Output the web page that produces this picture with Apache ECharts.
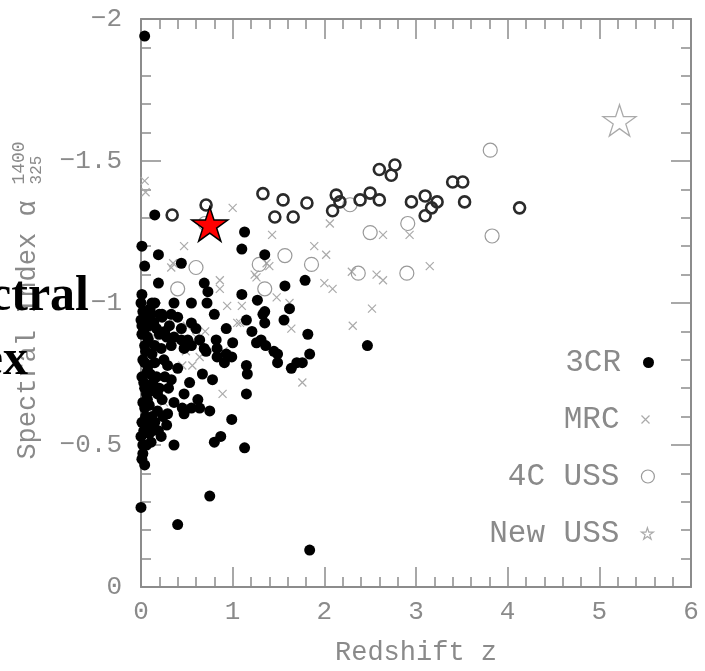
<!DOCTYPE html>
<html><head><meta charset="utf-8">
<script src="https://cdn.jsdelivr.net/npm/echarts@6/dist/echarts.min.js"></script>
<style>html,body{margin:0;padding:0;background:#fff}#chart{width:705px;height:671px}</style>
</head><body><div id="chart"></div>
<script>
// ---- data (redshift z, spectral index alpha) ----
const xTickValues = [0, 1, 2, 3, 4, 5, 6];
const yTickValues = [0, -0.5, -1, -1.5, -2];
const legendNames = ['3CR', 'MRC', '4C USS', 'New USS'];

const data3CR = [
  [0.04,-1.94],[0.15,-1.31],[0.01,-1.20],[0.19,-1.17],[0.44,-1.14],[0.04,-1.13],[0.19,-1.07],
  [1.13,-1.25],[1.10,-1.19],[1.35,-1.17],[0.01,-1.03],[0.12,-1.00],[0.36,-1.00],[0.15,-1.00],
  [0.69,-1.07],[0.73,-1.04],[0.55,-1.00],[0.72,-1.00],[0.80,-0.96],[1.10,-1.03],[1.27,-1.01],
  [1.57,-1.06],[1.79,-1.08],[1.62,-0.98],[1.33,-0.96],[1.15,-0.94],[1.56,-0.94],[1.82,-0.89],
  [1.31,-0.87],[1.36,-0.85],[1.84,-0.82],[1.45,-0.83],[1.49,-0.82],[1.49,-0.79],[1.70,-0.79],
  [1.64,-0.77],[1.76,-0.79],[1.21,-0.90],[0.04,-0.97],[0.11,-0.96],[0.20,-0.96],[0.23,-0.95],
  [0.40,-0.95],[0.00,-0.94],[0.01,-0.92],[0.09,-0.92],[0.31,-0.92],[0.17,-0.91],[0.28,-0.88],
  [0.44,-0.91],[0.44,-0.87],[0.55,-0.93],[0.60,-0.91],[0.64,-0.87],[0.55,-0.85],[0.69,-0.84],
  [0.82,-0.87],[0.83,-0.84],[0.93,-0.82],[0.91,-0.79],[0.93,-0.91],[1.00,-0.86],[0.99,-0.81],
  [1.15,-0.78],[1.16,-0.75],[1.26,-0.86],[1.35,-0.97],[1.35,-0.93],[0.01,-0.89],[0.20,-0.89],
  [0.36,-0.88],[0.51,-0.87],[0.04,-0.85],[0.15,-0.85],[0.33,-0.85],[0.47,-0.84],[0.71,-0.83],
  [0.83,-0.81],[0.04,-0.79],[0.15,-0.79],[0.29,-0.78],[0.40,-0.77],[0.01,-0.74],[0.17,-0.74],
  [0.33,-0.73],[0.67,-0.75],[0.78,-0.73],[0.53,-0.72],[0.04,-0.70],[0.20,-0.70],[0.47,-0.68],
  [0.07,-0.66],[0.23,-0.66],[0.36,-0.65],[0.62,-0.66],[0.45,-0.63],[0.04,-0.63],[0.18,-0.62],
  [0.29,-0.61],[0.55,-0.63],[0.64,-0.63],[0.75,-0.62],[0.47,-0.61],[0.99,-0.59],[1.15,-0.68],
  [0.01,-0.58],[0.15,-0.58],[0.28,-0.57],[0.09,-0.54],[0.22,-0.53],[0.00,-0.53],[0.87,-0.53],
  [0.80,-0.51],[0.36,-0.50],[1.13,-0.49],[0.75,-0.32],[0.40,-0.22],[1.84,-0.13],[0.00,-0.28],
  [0.01,-0.45],[0.04,-0.43],[2.47,-0.85],[0.02,-0.50],[0.03,-0.55],[0.05,-0.60],[0.02,-0.65],
  [0.06,-0.68],[0.03,-0.72],[0.07,-0.76],[0.02,-0.80],[0.05,-0.83],[0.08,-0.87],[0.03,-0.90],
  [0.06,-0.95],[0.10,-0.98],[0.12,-0.82],[0.10,-0.75],[0.12,-0.60],[0.10,-0.69],[0.25,-0.80],
  [0.22,-0.84],[0.13,-0.72],[0.26,-0.90],[0.30,-0.70],[0.06,-0.50],[0.12,-0.55],[0.02,-0.47],
  [0.07,-0.88],[0.02,-0.97],[0.00,-1.00],[0.23,-0.96],[0.08,-0.78],[0.18,-0.68],[0.26,-0.74],
  [0.09,-0.64],[0.14,-0.93],[0.33,-0.96],[0.24,-0.60],[0.06,-0.57],[0.19,-0.55],[0.11,-0.51]
];

const dataMRC = [
  [0.04,-1.43],[0.05,-1.39],[1.00,-1.335],[0.47,-1.20],[0.35,-1.14],[0.33,-1.125],[1.43,-1.24],
  [1.89,-1.20],[2.02,-1.17],[0.86,-1.08],[0.94,-0.99],[1.10,-0.99],[1.48,-1.02],[1.64,-0.91],
  [1.08,-0.93],[0.60,-0.88],[2.06,-1.28],[2.64,-1.24],[2.93,-1.24],[2.00,-1.07],[2.09,-1.05],
  [2.52,-0.98],[2.31,-0.92],[2.57,-1.10],[2.64,-1.08],[3.15,-1.13],[2.30,-1.11],[1.40,-1.13],
  [1.24,-1.10],[1.26,-1.09],[1.37,-1.14],[1.62,-1.00],[1.05,-0.93],[1.76,-0.72],[0.89,-0.68],
  [0.86,-1.05],[0.60,-0.86],[0.64,-0.81],[0.56,-0.78],[0.49,-0.83],[0.30,-0.95],[0.50,-0.92],
  [0.70,-0.90],[0.45,-0.78],[0.90,-0.83],[0.80,-0.96],[0.15,-0.88],[0.25,-0.65]
];

const data4CDark = [
  [0.34,-1.31],[0.71,-1.345],[1.33,-1.385],[1.55,-1.363],[1.81,-1.352],[1.46,-1.303],[1.66,-1.303],
  [2.13,-1.38],[2.17,-1.356],[2.09,-1.325],[2.39,-1.363],[2.50,-1.387],[2.60,-1.363],[2.60,-1.47],
  [2.77,-1.486],[2.73,-1.45],[2.95,-1.356],[3.10,-1.377],[3.23,-1.356],[3.17,-1.335],[3.10,-1.307],
  [3.40,-1.426],[3.51,-1.426],[3.53,-1.356],[4.13,-1.335]
];

const data4CLight = [
  [0.60,-1.125],[0.40,-1.05],[1.29,-1.136],[1.57,-1.167],[1.86,-1.136],[1.35,-1.05],[2.28,-1.346],
  [3.81,-1.538],[2.91,-1.28],[2.50,-1.248],[3.83,-1.236],[2.37,-1.105],[2.90,-1.105],[0.70,-1.28]
];

const dataNewUSS = [[5.22,-1.643]];
const dataTarget = [[0.75,-1.278]];

// ---- styling ----
const FONT = '"Liberation Mono", monospace';
const GRAY = '#8a8a8a';
const AXC = '#8c8c8c';
const STAR = 'path://M50,0L61.23,34.55L97.55,34.55L68.17,55.9L79.39,90.45L50,69.1L20.61,90.45L31.83,55.9L2.45,34.55L38.77,34.55Z';
const CROSS = 'path://M0,0L10,10M10,0L0,10';

function frameAxis(extra) {
  return Object.assign({
    type: 'value',
    axisLine: { show: true, onZero: false, lineStyle: { color: AXC, width: 2 } },
    axisTick: { show: true, inside: true, length: 20, lineStyle: { color: AXC, width: 1.5 } },
    minorTick: { show: true, splitNumber: 5, length: 10, lineStyle: { color: AXC, width: 1.5 } },
    splitLine: { show: false },
    minorSplitLine: { show: false }
  }, extra);
}
const minusFmt = v => (v < 0 ? '\u2212' + Math.abs(v) : String(v));

const chart = echarts.init(document.getElementById('chart'), null, { renderer: 'canvas' });

function legendAt(name, top, right, size, icon, itemStyle) {
  return {
    data: [name], top: top, right: right, padding: 0, align: 'right',
    itemWidth: size, itemHeight: size, icon: icon, selectedMode: false,
    itemStyle: itemStyle,
    textStyle: { fontFamily: FONT, fontSize: 31, color: GRAY, padding: [0, 17, 0, 0] }
  };
}

chart.setOption({
  animation: false,
  backgroundColor: '#fff',
  grid: { left: 141, right: 14, top: 19, bottom: 80, containLabel: false },
  xAxis: [
    frameAxis({ min: 0, max: 6, interval: 1, position: 'bottom',
      axisLabel: { margin: 12, fontFamily: FONT, fontSize: 26, color: GRAY,
        formatter: v => xTickValues.includes(v) ? String(v) : '' },
      name: 'Redshift z', nameLocation: 'middle', nameGap: 52,
      nameTextStyle: { fontFamily: FONT, fontSize: 27, color: GRAY } }),
    frameAxis({ min: 0, max: 6, interval: 1, position: 'top', axisLabel: { show: false } })
  ],
  yAxis: [
    frameAxis({ min: -2, max: 0, interval: 0.5, inverse: true, position: 'left',
      axisLabel: { margin: 19, fontFamily: FONT, fontSize: 26, color: GRAY,
        formatter: v => yTickValues.includes(v) ? minusFmt(v) : '' } }),
    frameAxis({ min: -2, max: 0, interval: 0.5, inverse: true, position: 'right', axisLabel: { show: false } })
  ],
  legend: [
    legendAt('3CR', 347, 51, 11, 'circle', { color: '#000', borderWidth: 0, opacity: 1 }),
    legendAt('MRC', 404, 53, 8, CROSS, { color: 'none', borderColor: '#aaa', borderWidth: 1.2, opacity: 1 }),
    legendAt('4C USS', 461, 50, 13, 'circle', { color: '#fff', borderColor: '#999', borderWidth: 1.2, opacity: 1 }),
    legendAt('New USS', 518, 51, 12, STAR, { color: '#fff', borderColor: '#aaa', borderWidth: 1.2, opacity: 1 })
  ],
  series: [
    { name: 'MRC', type: 'scatter', data: dataMRC, symbol: CROSS, symbolSize: 8, z: 2,
      itemStyle: { color: 'none', borderColor: '#aaa', borderWidth: 1.2, opacity: 1 } },
    { name: '4C USS', type: 'scatter', data: data4CLight, symbol: 'circle', symbolSize: 14, z: 3,
      itemStyle: { color: 'rgba(255,255,255,0)', borderColor: '#999', borderWidth: 1.2, opacity: 1 } },
    { name: '4C USS', type: 'scatter', data: data4CDark, symbol: 'circle', symbolSize: 11, z: 3,
      itemStyle: { color: 'rgba(255,255,255,0)', borderColor: '#2a2a2a', borderWidth: 2.6, opacity: 1 } },
    { name: '3CR', type: 'scatter', data: data3CR, symbol: 'circle', symbolSize: 11, z: 4,
      itemStyle: { color: '#000', opacity: 1 } },
    { name: 'New USS', type: 'scatter', data: dataNewUSS, symbol: STAR, symbolSize: 33, symbolKeepAspect: true, z: 4,
      itemStyle: { color: 'rgba(255,255,255,0)', borderColor: '#aaa', borderWidth: 1.3, opacity: 1 } },
    { name: 'Target', type: 'scatter', data: dataTarget, symbol: STAR, symbolSize: 36, symbolKeepAspect: true, z: 6,
      itemStyle: { color: '#ff0000', borderColor: '#000', borderWidth: 1.5, opacity: 1 } }
  ],
  graphic: [
    { type: 'text', rotation: Math.PI / 2, x: 28, y: 330, z: 50,
      style: { text: 'Spectral Index \u03b1', font: '27px "Liberation Mono"', fill: GRAY, align: 'center', verticalAlign: 'middle' } },
    { type: 'text', rotation: Math.PI / 2, x: 19, y: 163, z: 50,
      style: { text: '1400', font: '18px "Liberation Mono"', fill: GRAY, align: 'center', verticalAlign: 'middle' } },
    { type: 'text', rotation: Math.PI / 2, x: 37, y: 170, z: 50,
      style: { text: '325', font: '16px "Liberation Mono"', fill: GRAY, align: 'center', verticalAlign: 'middle' } },
    { type: 'text', x: 89, y: 297, z: 100,
      style: { text: 'Spectral', font: 'bold 50px "Liberation Serif"', fill: '#000', align: 'right', verticalAlign: 'middle' } },
    { type: 'text', x: 28, y: 361, z: 100,
      style: { text: 'Index', font: 'bold 50px "Liberation Serif"', fill: '#000', align: 'right', verticalAlign: 'middle' } }
  ]
});
</script>
</body></html>
